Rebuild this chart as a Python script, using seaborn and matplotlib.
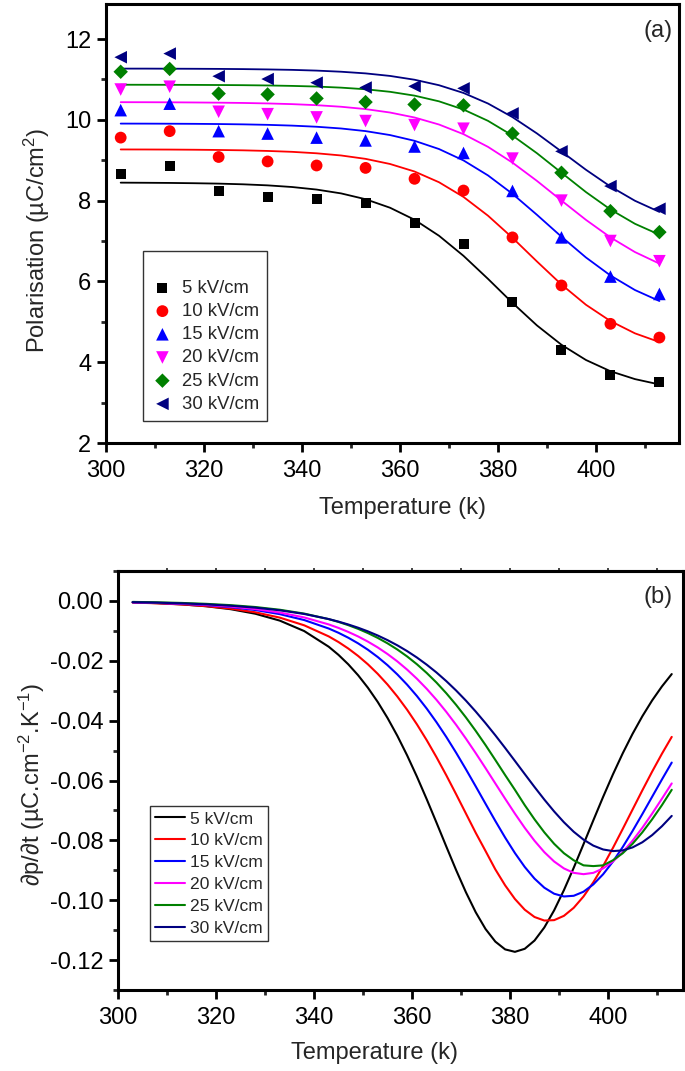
import numpy as np
import pandas as pd
import matplotlib
matplotlib.use("Agg")
import matplotlib.pyplot as plt
import seaborn as sns
from matplotlib.ticker import MultipleLocator, FuncFormatter

# ---------------- data ----------------
fields = ["5 kV/cm", "10 kV/cm", "15 kV/cm", "20 kV/cm", "25 kV/cm", "30 kV/cm"]

# (a) measured polarisation points
T_data = [303, 313, 323, 333, 343, 353, 363, 373, 383, 393, 403, 413]
p5 = [8.67, 8.86, 8.24, 8.10, 8.05, 7.94, 7.44, 6.93, 5.50, 4.30, 3.68, 3.51]
p10 = [9.56, 9.72, 9.08, 8.97, 8.87, 8.81, 8.54, 8.25, 7.09, 5.90, 4.95, 4.61]
p15 = [10.24, 10.40, 9.72, 9.66, 9.56, 9.49, 9.34, 9.18, 8.24, 7.09, 6.12, 5.69]
p20 = [10.75, 10.82, 10.20, 10.14, 10.06, 9.97, 9.87, 9.78, 9.04, 8.00, 7.00, 6.50]
p25 = [11.19, 11.26, 10.65, 10.63, 10.53, 10.44, 10.38, 10.36, 9.66, 8.69, 7.74, 7.22]
p30 = [11.55, 11.64, 11.08, 11.01, 10.92, 10.80, 10.83, 10.78, 10.16, 9.22, 8.36, 7.80]

# (a) fitted curves
T_fit = [303, 308, 313, 318, 323, 328, 333, 338, 343, 348, 353, 358,
         363, 368, 373, 378, 383, 388, 393, 398, 403, 408, 413]
fit5 = [8.445, 8.442, 8.438, 8.431, 8.421, 8.404, 8.378, 8.337, 8.274, 8.179, 8.035, 7.824,
        7.527, 7.130, 6.633, 6.063, 5.469, 4.910, 4.432, 4.055, 3.777, 3.582, 3.449]
fit10 = [9.267, 9.266, 9.264, 9.260, 9.254, 9.245, 9.230, 9.208, 9.172, 9.118, 9.034, 8.907,
         8.721, 8.455, 8.091, 7.627, 7.080, 6.493, 5.923, 5.422, 5.019, 4.715, 4.499]
fit15 = [9.907, 9.906, 9.904, 9.901, 9.896, 9.888, 9.876, 9.857, 9.829, 9.786, 9.721, 9.623,
         9.481, 9.277, 8.995, 8.624, 8.168, 7.648, 7.107, 6.593, 6.147, 5.787, 5.515]
fit20 = [10.437, 10.436, 10.434, 10.430, 10.425, 10.418, 10.406, 10.389, 10.363, 10.324, 10.266, 10.181,
         10.058, 9.884, 9.645, 9.331, 8.940, 8.488, 8.002, 7.524, 7.090, 6.727, 6.441]
fit25 = [10.869, 10.868, 10.867, 10.865, 10.862, 10.858, 10.851, 10.840, 10.824, 10.797, 10.757, 10.694,
         10.599, 10.458, 10.255, 9.975, 9.611, 9.173, 8.691, 8.212, 7.781, 7.427, 7.157]
fit30 = [11.268, 11.268, 11.266, 11.264, 11.261, 11.256, 11.248, 11.237, 11.219, 11.191, 11.150, 11.087,
         10.993, 10.857, 10.665, 10.404, 10.067, 9.663, 9.216, 8.764, 8.349, 7.997, 7.721]

# (b) pyroelectric curves dp/dT
T_der = [303, 308, 313, 318, 323, 328, 333, 338, 343, 345, 347, 349, 351, 353, 355, 357,
         359, 361, 363, 365, 367, 369, 371, 373, 375, 377, 379, 381, 383, 385, 387, 389,
         391, 393, 395, 397, 399, 401, 403, 405, 407, 409, 411, 413]
d5 = [-0.00048, -0.00074, -0.00115, -0.00178, -0.00276, -0.00427, -0.00657, -0.01007, -0.01530,
      -0.01803, -0.02119, -0.02483, -0.02901, -0.03375, -0.03910, -0.04505, -0.05160, -0.05870,
      -0.06625, -0.07410, -0.08208, -0.08993, -0.09734, -0.10402, -0.10961, -0.11383, -0.11643,
      -0.11725, -0.11624, -0.11348, -0.10911, -0.10339, -0.09663, -0.08916, -0.08128, -0.07331,
      -0.06547, -0.05796, -0.05092, -0.04443, -0.03854, -0.03325, -0.02857, -0.02444]
d10 = [-0.00054, -0.00080, -0.00118, -0.00174, -0.00257, -0.00379, -0.00557, -0.00815, -0.01185,
       -0.01374, -0.01591, -0.01838, -0.02118, -0.02436, -0.02793, -0.03193, -0.03636, -0.04123,
       -0.04653, -0.05223, -0.05827, -0.06458, -0.07103, -0.07748, -0.08354, -0.08969, -0.09503,
       -0.09959, -0.10317, -0.10561, -0.10679, -0.10666, -0.10522, -0.10254, -0.09875, -0.09401,
       -0.08854, -0.08253, -0.07619, -0.06973, -0.06330, -0.05704, -0.05106, -0.04543]
d15 = [-0.00046, -0.00067, -0.00098, -0.00142, -0.00208, -0.00303, -0.00441, -0.00639, -0.00922,
       -0.01065, -0.01230, -0.01418, -0.01631, -0.01874, -0.02147, -0.02455, -0.02798, -0.03178,
       -0.03597, -0.04054, -0.04546, -0.05072, -0.05625, -0.06196, -0.06776, -0.07351, -0.07906,
       -0.08424, -0.08888, -0.09279, -0.09582, -0.09783, -0.09875, -0.09852, -0.09716, -0.09472,
       -0.09132, -0.08710, -0.08223, -0.07688, -0.07123, -0.06544, -0.05966, -0.05401]
d20 = [-0.00044, -0.00064, -0.00091, -0.00131, -0.00189, -0.00271, -0.00387, -0.00552, -0.00785,
       -0.00902, -0.01036, -0.01187, -0.01360, -0.01554, -0.01774, -0.02020, -0.02295, -0.02600,
       -0.02937, -0.03306, -0.03708, -0.04140, -0.04601, -0.05085, -0.05586, -0.06098, -0.06608,
       -0.07107, -0.07581, -0.08014, -0.08394, -0.08706, -0.08938, -0.09086, -0.09130, -0.09086,
       -0.08938, -0.08706, -0.08394, -0.08014, -0.07581, -0.07107, -0.06608, -0.06098]
d25 = [-0.00032, -0.00046, -0.00067, -0.00097, -0.00141, -0.00203, -0.00294, -0.00423, -0.00608,
       -0.00702, -0.00810, -0.00933, -0.01074, -0.01235, -0.01417, -0.01623, -0.01855, -0.02116,
       -0.02407, -0.02729, -0.03085, -0.03473, -0.03893, -0.04342, -0.04816, -0.05313, -0.05818,
       -0.06311, -0.06823, -0.07297, -0.07732, -0.08115, -0.08430, -0.08666, -0.08835, -0.08860,
       -0.08835, -0.08666, -0.08430, -0.08115, -0.07732, -0.07297, -0.06823, -0.06311]
d30 = [-0.00041, -0.00058, -0.00081, -0.00114, -0.00161, -0.00224, -0.00313, -0.00436, -0.00606,
       -0.00691, -0.00787, -0.00895, -0.01017, -0.01155, -0.01310, -0.01483, -0.01676, -0.01891,
       -0.02130, -0.02392, -0.02680, -0.02993, -0.03331, -0.03696, -0.04083, -0.04489, -0.04912,
       -0.05346, -0.05783, -0.06217, -0.06637, -0.07033, -0.07395, -0.07713, -0.07976, -0.08176,
       -0.08305, -0.08359, -0.08335, -0.08236, -0.08064, -0.07825, -0.07528, -0.07183]

# ---------------- style ----------------
colors = ["#000000", "#FF0000", "#0000FF", "#FF00FF", "#008000", "#000080"]
markers = ["s", "o", "^", "v", "D", "<"]
msizes = [52, 72, 82, 82, 54, 82]

sns.set_theme(style="ticks")
plt.rcParams["font.family"] = ["Liberation Sans", "DejaVu Sans"]
plt.rcParams["mathtext.default"] = "regular"
plt.rcParams["axes.unicode_minus"] = False

FS = 17
W, H = 685, 1071
fig = plt.figure(figsize=(W / 100, H / 100), dpi=100)
ax1 = fig.add_axes([106 / W, 1 - 443 / H, (679 - 106) / W, (443 - 3.5) / H])
ax2 = fig.add_axes([118 / W, 1 - 990 / H, (683 - 118) / W, (990 - 571) / H])

# ---------------- panel (a) ----------------
pts = [p5, p10, p15, p20, p25, p30]
fits = [fit5, fit10, fit15, fit20, fit25, fit30]
for lab, c, m, s, yv, fv in zip(fields, colors, markers, msizes, pts, fits):
    sns.lineplot(x=T_fit, y=fv, color=c, lw=1.3, ax=ax1, legend=False,
                 sort=False, estimator=None, zorder=2)
    sns.scatterplot(x=T_data, y=yv, marker=m, color=c, s=s, edgecolor="none",
                    linewidth=0, ax=ax1, label=lab, zorder=3)

ax1.set_xlim(300, 417)
ax1.set_ylim(2, 12.88)
ax1.xaxis.set_major_locator(MultipleLocator(20))
ax1.xaxis.set_minor_locator(MultipleLocator(10))
ax1.yaxis.set_major_locator(MultipleLocator(2))
ax1.yaxis.set_minor_locator(MultipleLocator(1))
ax1.set_xlabel("Temperature (k)", fontsize=FS)
ax1.set_ylabel("Polarisation (µC/cm$^{2}$)", fontsize=FS)
ax1.xaxis.set_label_coords(0.518, -0.124)
ax1.yaxis.set_label_coords(-0.095, 0.462)
ax1.text(0.963, 0.937, "(a)", transform=ax1.transAxes, ha="center", va="center", fontsize=FS)

h, l = ax1.get_legend_handles_labels()
leg1 = ax1.legend(h, l, loc="lower left", bbox_to_anchor=(0.0646, 0.05), borderaxespad=0,
                  fontsize=13.3, title=" ", title_fontsize=10, frameon=True, fancybox=False,
                  edgecolor="#333333", framealpha=1, borderpad=0.45, handlelength=1.2,
                  handletextpad=0.45, labelspacing=0.335)
leg1.get_frame().set_linewidth(1.0)

# ---------------- panel (b) ----------------
ders = [d5, d10, d15, d20, d25, d30]
for lab, c, dv in zip(fields, colors, ders):
    sns.lineplot(x=T_der, y=dv, color=c, lw=1.5, ax=ax2, label=lab,
                 sort=False, estimator=None)

ax2.set_xlim(300, 415.3)
ax2.set_ylim(-0.13, 0.01)
ax2.xaxis.set_major_locator(MultipleLocator(20))
ax2.xaxis.set_minor_locator(MultipleLocator(10))
ax2.yaxis.set_major_locator(MultipleLocator(0.02))
ax2.yaxis.set_minor_locator(MultipleLocator(0.01))
ax2.yaxis.set_major_formatter(FuncFormatter(lambda v, p: f"{round(v, 2) + 0:.2f}"))
ax2.set_xlabel("Temperature (k)", fontsize=FS)
ax2.set_ylabel("∂p/∂t (µC.cm$^{-2}$.K$^{-1}$)", fontsize=FS)
ax2.xaxis.set_label_coords(0.454, -0.124)
ax2.yaxis.set_label_coords(-0.125, 0.49)
ax2.text(0.956, 0.938, "(b)", transform=ax2.transAxes, ha="center", va="center", fontsize=FS)

h, l = ax2.get_legend_handles_labels()
leg2 = ax2.legend(h, l, loc="lower left", bbox_to_anchor=(0.0566, 0.117), borderaxespad=0,
                  fontsize=12.6, frameon=True, fancybox=False, edgecolor="#333333",
                  framealpha=1, borderpad=0.28, handlelength=1.74, handletextpad=0.27,
                  labelspacing=0.38)
leg2.get_frame().set_linewidth(1.0)

sec = ax2.secondary_xaxis("top")
sec.set_xticks(list(range(310, 420, 10)))
sec.tick_params(direction="out", length=2, width=1.2, labeltop=False)
sec.spines["top"].set_linewidth(2.2)

for ax in (ax1, ax2):
    for sp in ax.spines.values():
        sp.set_visible(True)
        sp.set_linewidth(2.2)
        sp.set_color("black")
    ax.tick_params(axis="both", which="major", direction="out", length=6.5, width=2.0,
                   labelsize=FS, pad=6, colors="black", top=False, right=False)
    ax.tick_params(axis="both", which="minor", direction="out", length=3.6, width=2.0,
                   top=False, right=False)
    ax.tick_params(axis="y", pad=4)
    ax.grid(False)
    ax.set_facecolor("white")

ax1.set_xlim(300, 417)
ax2.set_xlim(300, 415.3)

fig.savefig("out.png", dpi=100, facecolor="white")
